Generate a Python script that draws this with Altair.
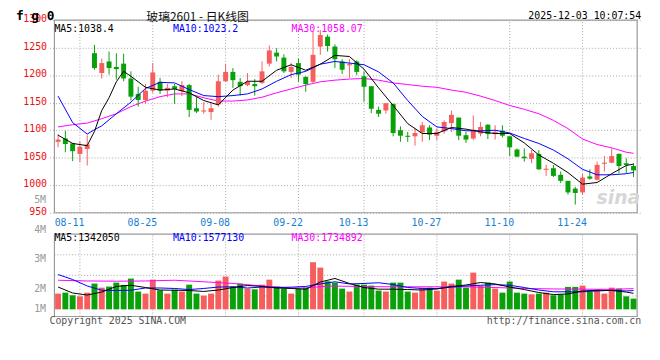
import json
import altair as alt
import pandas as pd

# ---------------- data ----------------
_days = pd.bdate_range("2025-08-06", "2025-12-03")
_hol = (_days >= "2025-10-01") & (_days <= "2025-10-08")
dates = [d.strftime("%m-%d") for d in _days[~_hol]]

tick_dates = ["08-11", "08-25", "09-08", "09-22", "10-13", "10-27", "11-10", "11-24"]

opens = [1079, 1085, 1076, 1057, 1066, 1240, 1204, 1225, 1215, 1221,
         1194, 1166, 1155, 1172, 1188, 1172, 1180, 1171, 1182, 1140,
         1134, 1133, 1147, 1189, 1206, 1188, 1182, 1184, 1186, 1221,
         1241, 1232, 1206, 1222, 1197, 1188, 1252, 1270, 1252, 1225,
         1218, 1225, 1198, 1180, 1137, 1136, 1148, 1100, 1090, 1089,
         1096, 1105, 1090, 1098, 1113, 1123, 1091, 1085, 1094, 1110,
         1093, 1099, 1089, 1065, 1052, 1048, 1057, 1028, 1031, 1019,
         1008, 994, 987, 1016, 1010, 1039, 1041, 1057, 1040, 1035]
closes = [1083, 1075, 1062, 1070, 1074, 1213, 1222, 1213, 1211, 1194,
          1161, 1155, 1172, 1205, 1172, 1177, 1175, 1182, 1137, 1134,
          1136, 1140, 1189, 1206, 1191, 1180, 1188, 1180, 1207, 1245,
          1234, 1207, 1215, 1201, 1184, 1237, 1273, 1253, 1229, 1210,
          1220, 1206, 1179, 1139, 1130, 1149, 1095, 1090, 1088, 1095,
          1109, 1092, 1097, 1115, 1128, 1090, 1083, 1101, 1106, 1093,
          1097, 1090, 1069, 1052, 1049, 1058, 1029, 1030, 1017, 1008,
          987, 986, 1014, 1012, 1037, 1041, 1053, 1035, 1037, 1027]
highs = [1093, 1099, 1077, 1080, 1091, 1255, 1230, 1243, 1240, 1239,
         1207, 1179, 1184, 1222, 1195, 1184, 1184, 1189, 1184, 1160,
         1151, 1148, 1201, 1220, 1213, 1195, 1204, 1193, 1225, 1254,
         1249, 1238, 1222, 1230, 1198, 1279, 1282, 1274, 1256, 1229,
         1229, 1227, 1207, 1180, 1143, 1149, 1148, 1107, 1097, 1103,
         1115, 1109, 1103, 1118, 1136, 1123, 1097, 1127, 1115, 1111,
         1109, 1109, 1089, 1067, 1067, 1064, 1064, 1037, 1037, 1025,
         1008, 997, 1021, 1029, 1043, 1053, 1067, 1058, 1049, 1040]
lows = [1069, 1060, 1044, 1042, 1036, 1210, 1194, 1201, 1192, 1189,
        1154, 1143, 1148, 1168, 1166, 1160, 1148, 1162, 1124, 1131,
        1130, 1119, 1143, 1188, 1177, 1163, 1180, 1163, 1184, 1216,
        1225, 1204, 1195, 1188, 1170, 1184, 1237, 1243, 1213, 1202,
        1195, 1200, 1152, 1131, 1124, 1130, 1089, 1079, 1079, 1072,
        1079, 1082, 1082, 1094, 1097, 1082, 1077, 1082, 1089, 1084,
        1083, 1087, 1053, 1051, 1043, 1040, 1028, 1017, 1015, 1004,
        983, 965, 983, 1010, 1009, 1025, 1040, 1022, 1022, 1015]
volumes = [1320000, 1400000, 1180000, 1090000, 1400000, 2160000, 1820000, 1910000, 2240000, 2050000,
           2580000, 1490000, 1320000, 2490000, 1600000, 1320000, 1650000, 1490000, 2070000, 1320000,
           1150000, 1320000, 2410000, 2750000, 1910000, 2160000, 1740000, 1680000, 2070000, 2490000,
           1910000, 1740000, 1320000, 1740000, 1820000, 3950000, 3500000, 2350000, 2240000, 1740000,
           1490000, 2070000, 2070000, 1990000, 1570000, 1490000, 2240000, 2240000, 1490000, 1400000,
           1820000, 1820000, 1570000, 2330000, 2160000, 2490000, 1820000, 3080000, 1990000, 2240000,
           1740000, 1400000, 2330000, 1400000, 1320000, 1260000, 1320000, 1400000, 1180000, 1260000,
           1880000, 1880000, 1990000, 1460000, 1650000, 1320000, 1820000, 1740000, 1090000, 900000]

# moving averages (index of the candle, value)
ma5_idx = [0, 2, 4, 5, 6, 7, 8, 9, 10] + list(range(12, 79, 2)) + [79]
ma5_val = [1091, 1076, 1072, 1098, 1136, 1159, 1188, 1207, 1198,
           1178, 1173, 1175, 1168, 1154, 1146, 1173, 1189, 1189, 1209,
           1219, 1209, 1220, 1236, 1234, 1211, 1177, 1145, 1112, 1094,
           1094, 1105, 1102, 1097, 1094, 1094, 1077, 1055, 1040, 1023,
           1002, 1005, 1021, 1036, 1038.4]
ma10_idx = [0, 2, 4, 5, 6] + list(range(8, 79, 2)) + [79]
ma10_val = [1162, 1114, 1093, 1101, 1108,
            1130, 1151, 1176, 1187, 1186, 1174, 1163, 1161, 1163, 1166,
            1175, 1189, 1201, 1207, 1220, 1225, 1222, 1219, 1206, 1186,
            1154, 1125, 1106, 1103, 1099, 1099, 1100, 1095, 1085, 1076,
            1064, 1048, 1029, 1019, 1019, 1021, 1023.2]
ma30_idx = list(range(0, 79, 2)) + [79]
ma30_val = [1106, 1110, 1113, 1121, 1130, 1143, 1153, 1161, 1166, 1166,
            1159, 1153, 1153, 1155, 1160, 1168, 1175, 1182, 1188, 1191,
            1193, 1194, 1191, 1186, 1183, 1180, 1178, 1173, 1169, 1162,
            1154, 1145, 1138, 1130, 1118, 1103, 1084, 1074, 1068, 1060,
            1058.07]

vma5_idx = list(range(0, 79, 2)) + [79]
vma5_val = [1870000, 1370000, 1200000, 1450000, 1920000, 2020000, 1830000, 1620000, 1600000, 1580000,
            1500000, 1620000, 1830000, 2000000, 1920000, 1790000, 1750000, 1690000, 2290000, 2590000,
            2170000, 1830000, 1690000, 1690000, 1660000, 1620000, 1710000, 1920000, 2040000, 2250000,
            2130000, 1870000, 1660000, 1410000, 1240000, 1290000, 1540000, 1600000, 1580000, 1450000,
            1342050]
vma10_idx = list(range(0, 79, 2)) + [79]
vma10_val = [2920000, 2500000, 1960000, 1600000, 1580000, 1600000, 1790000, 1790000, 1750000, 1660000,
             1750000, 1870000, 1890000, 1790000, 1870000, 1830000, 1860000, 1920000, 2130000, 2310000,
             2130000, 2170000, 2230000, 2080000, 1830000, 1750000, 1750000, 1860000, 1960000, 2020000,
             2070000, 2020000, 1830000, 1620000, 1470000, 1470000, 1470000, 1540000, 1600000, 1540000,
             1577130]
vma30_idx = [0, 4, 8, 12, 16, 20, 24, 28, 32, 34, 36, 38, 40, 42, 48, 56, 60, 64, 68, 72, 76, 79]
vma30_val = [2440000, 2380000, 2360000, 2380000, 2440000, 2310000, 2170000, 1960000, 1790000, 1790000,
             1900000, 1950000, 1930000, 1900000, 1890000, 1890000, 1830000, 1750000, 1710000, 1690000,
             1680000, 1734892]

price_ticks = [950, 1000, 1050, 1100, 1150, 1200, 1250, 1300]
vol_label_ticks = [1000000, 2000000, 3000000, 4000000, 5000000]
vol_grid = [1125000, 2850000, 4575000]

# ---------------- style ----------------
RED = "#f65d5d"
GREEN = "#0aa00a"
GRID = "#a8a8a8"
BORDER = "#9a9a9a"
MONO = "DejaVu Sans Mono"
N = len(dates)

df = pd.DataFrame({"i": list(range(N)), "date": dates, "open": opens, "close": closes,
                   "high": highs, "low": lows, "volume": volumes})
df["dir"] = ["up" if c >= o else "down" for o, c in zip(opens, closes)]

tick_idx = [dates.index(d) for d in tick_dates]

xs = alt.Scale(domain=[-0.5, N - 0.5], nice=False, zero=False)
ps = alt.Scale(domain=[950, 1300], range=[195, 0], nice=False, zero=False)
vs = alt.Scale(domain=[-600000, 6300000], range=[300, 216.7], nice=False, zero=False)
cs = alt.Scale(domain=["up", "down"], range=[RED, GREEN])

X_AXIS = alt.Axis(values=tick_idx, labelExpr=json.dumps(dates) + "[datum.value]",
                  orient="bottom", offset=-105, grid=False, domain=False, ticks=False,
                  labelColor="#1a80d0", labelFont=MONO, labelFontSize=10,
                  labelAlign="right", labelOffset=4, labelPadding=5, title=None)
P_AXIS = alt.Axis(values=price_ticks, format="d", grid=True, gridDash=[1, 2], gridColor=GRID,
                  domain=False, ticks=False, labelColor="#ee1111", labelFont=MONO,
                  labelFontSize=10, labelPadding=3, labelOffset=-1.5, title=None)


def X(field="i"):
    return alt.X(field + ":Q", scale=xs, axis=X_AXIS)


def PY(field):
    return alt.Y(field + ":Q", scale=ps, axis=P_AXIS)


def VY(field):
    return alt.Y(field + ":Q", scale=vs, axis=None)


base = alt.Chart(df)

# price panel
frame_p = pd.DataFrame({"x0": [-0.5], "x1": [N - 0.5], "y0": [950], "y1": [1300]})
vgrid_p = pd.DataFrame({"i": tick_idx, "lo": [950] * len(tick_idx), "hi": [1300] * len(tick_idx)})

p_vgrid = alt.Chart(vgrid_p).mark_rule(color=GRID, strokeDash=[1, 2], strokeWidth=1).encode(
    x=X(), y=PY("lo"), y2="hi:Q")
p_wick = base.mark_rule(strokeWidth=1).encode(
    x=X(), y=PY("low"), y2="high:Q", color=alt.Color("dir:N", scale=cs, legend=None))
p_body = base.mark_bar(size=5).encode(
    x=X(), y=PY("open"), y2="close:Q", color=alt.Color("dir:N", scale=cs, legend=None))


def ma_line(idx, vals, color, yfun):
    d = pd.DataFrame({"i": idx, "v": vals})
    return alt.Chart(d).mark_line(color=color, strokeWidth=1).encode(x=X(), y=yfun("v"))


p_ma30 = ma_line(ma30_idx, ma30_val, "#ff00ff", PY)
p_ma10 = ma_line(ma10_idx, ma10_val, "#0000ff", PY)
p_ma5 = ma_line(ma5_idx, ma5_val, "#000000", PY)
p_frame = alt.Chart(frame_p).mark_rect(fillOpacity=0, stroke=BORDER, strokeWidth=1.2).encode(
    x=X("x0"), x2="x1:Q", y=PY("y0"), y2="y1:Q")

price = alt.layer(p_vgrid, p_ma30, p_wick, p_body, p_ma10, p_ma5, p_frame)

# volume panel
frame_v = pd.DataFrame({"x0": [-0.5], "x1": [N - 0.5], "y0": [-600000], "y1": [6300000]})
vgrid_v = pd.DataFrame({"i": tick_idx, "lo": [-600000] * len(tick_idx), "hi": [6300000] * len(tick_idx)})
hgrid_v = pd.DataFrame({"v": vol_grid, "x0": [-0.5] * 3, "x1": [N - 0.5] * 3})

v_vgrid = alt.Chart(vgrid_v).mark_rule(color=GRID, strokeDash=[1, 2], strokeWidth=1).encode(
    x=X(), y=VY("lo"), y2="hi:Q")
v_hgrid = alt.Chart(hgrid_v).mark_rule(color=GRID, strokeDash=[1, 2], strokeWidth=1).encode(
    x=X("x0"), x2="x1:Q", y=VY("v"))
v_bars = base.mark_bar(size=6).encode(
    x=X(), y=VY("volume"), y2=alt.datum(0), color=alt.Color("dir:N", scale=cs, legend=None))
v_ma30 = ma_line(vma30_idx, vma30_val, "#ff00ff", VY)
v_ma10 = ma_line(vma10_idx, vma10_val, "#0000ff", VY)
v_ma5 = ma_line(vma5_idx, vma5_val, "#000000", VY)
v_frame = alt.Chart(frame_v).mark_rect(fillOpacity=0, stroke=BORDER, strokeWidth=1.2).encode(
    x=X("x0"), x2="x1:Q", y=VY("y0"), y2="y1:Q")

volume = alt.layer(v_vgrid, v_hgrid, v_bars, v_ma30, v_ma10, v_ma5, v_frame)

# volume-axis labels (Sina places them on its own uneven scale)
lab = alt.Chart(pd.DataFrame({"v": vol_label_ticks})).mark_point(opacity=0).encode(
    y=alt.Y("v:Q", scale=alt.Scale(domain=vol_label_ticks, range=[291.7, 271.7, 241.7, 211.7, 181.7],
                                   nice=False, zero=False),
            axis=alt.Axis(orient="left", values=vol_label_ticks, labelExpr="datum.value/1000000 + 'M'",
                          grid=False, domain=False, ticks=False, labelColor="#999999",
                          labelFont=MONO, labelFontSize=10, labelPadding=4, title=None)))


def txt(s, x, y, color="#000000", size=10, align="left", font=MONO, weight="normal", style="normal"):
    return alt.Chart(pd.DataFrame({"t": [s]})).mark_text(
        align=align, baseline="middle", font=font, fontSize=size, color=color,
        fontWeight=weight, fontStyle=style).encode(
        text="t:N", x=alt.value(x), y=alt.value(y))


texts = [
    txt("f g 0", -34, -4.3, size=13, weight="bold"),
    txt("玻璃2601 - 日K线图", 150, -3.3, size=12, align="center", font="Noto Sans CJK SC", color="#111111"),
    txt("2025-12-03 10:07:54", 599, -4.3, size=10, align="right"),
    txt("MA5:" + str(ma5_val[-1]), 5, 8.5, color="#000000"),
    txt("MA10:" + str(ma10_val[-1]), 125, 8.5, color="#0000ff"),
    txt("MA30:" + str(ma30_val[-1]), 245, 8.5, color="#ff00ff"),
    txt("MA5:" + str(vma5_val[-1]), 5, 221, color="#000000"),
    txt("MA10:" + str(vma10_val[-1]), 125, 221, color="#0000ff"),
    txt("MA30:" + str(vma30_val[-1]), 245, 221, color="#ff00ff"),
    txt("Copyright 2025 SINA.COM", 0, 305, color="#555555"),
    txt("http://finance.sina.com.cn", 599, 305, color="#555555", align="right"),
    txt("sina", 576, 180, color="#d6d6d6", size=19, align="center", font="DejaVu Sans",
        weight="bold", style="italic"),
]

chart = alt.layer(price, volume, lab, *texts).resolve_scale(y="independent").properties(
    width=600, height=300,
    autosize=alt.AutoSizeParams(type="none"),
    padding={"left": 42, "top": 10.3, "right": 10, "bottom": 16},
    background="white",
).configure_view(stroke=None)

chart.save("out.html", embed_options={"renderer": "svg", "actions": False})
